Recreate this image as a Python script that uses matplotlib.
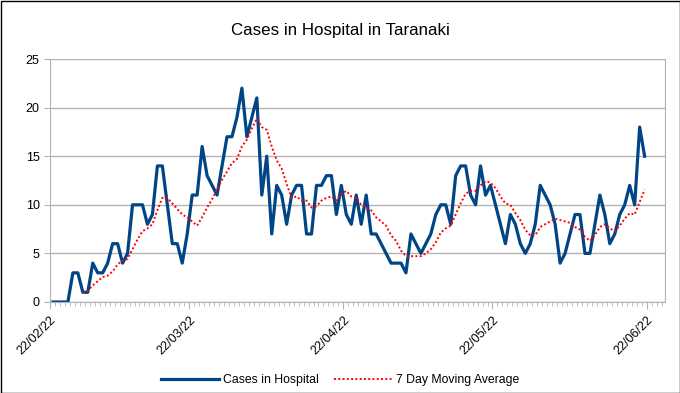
import numpy as np
import pandas as pd
import matplotlib
matplotlib.use('Agg')
import matplotlib.pyplot as plt
import matplotlib.dates as mdates
from matplotlib.patches import Rectangle

# daily cases in hospital, starting 22/02/22
cases = [0, 0, 0, 0, 3, 3, 1, 1, 4, 3,
         3, 4, 6, 6, 4, 5, 10, 10, 10, 8,
         9, 14, 14, 10, 6, 6, 4, 7, 11, 11,
         16, 13, 12, 11, 14, 17, 17, 19, 22, 17,
         19, 21, 11, 15, 7, 12, 11, 8, 11, 12,
         12, 7, 7, 12, 12, 13, 13, 9, 12, 9,
         8, 11, 8, 11, 7, 7, 6, 5, 4, 4,
         4, 3, 7, 6, 5, 6, 7, 9, 10, 10,
         8, 13, 14, 14, 11, 10, 14, 11, 12, 10,
         8, 6, 9, 8, 6, 5, 6, 8, 12, 11,
         10, 8, 4, 5, 7, 9, 9, 5, 5, 8,
         11, 9, 6, 7, 9, 10, 12, 10, 18, 15]
start_date = '2022-02-22'
tick_dates = ['2022-02-22', '2022-03-22', '2022-04-22', '2022-05-22', '2022-06-22']
y_ticks = [0, 5, 10, 15, 20, 25]

dates = pd.date_range(start_date, periods=len(cases), freq='D')
ma = pd.Series(cases).rolling(7).mean()

plt.rcParams['font.family'] = ['Liberation Sans', 'DejaVu Sans']

fig = plt.figure(figsize=(6.8, 3.93), dpi=100)
ax = fig.add_axes([50 / 680, 91 / 393, 615 / 680, 243 / 393])

# LibreOffice puts each day's point in the middle of its slot
x = mdates.date2num(dates) + 0.6
ax.plot(x, cases, color='#004586', lw=2.3, label='Cases in Hospital', solid_joinstyle='round')
ax.plot(x, ma, color='#ff0000', lw=1.4, ls=(0, (1, 1.2)), label='7 Day Moving Average')

x0 = mdates.date2num(pd.Timestamp(start_date))
ax.set_xlim(x0, x0 + 123.7)
ax.set_ylim(0, 25)
ax.set_yticks(y_ticks)
ax.set_xticks(mdates.date2num(pd.to_datetime(tick_dates)))
ax.xaxis.set_major_formatter(mdates.DateFormatter('%d/%m/%y'))
ax.xaxis.set_minor_locator(mdates.DayLocator())
ax.grid(axis='y', color='#b3b3b3', lw=1)
ax.set_axisbelow(True)

ax.spines['top'].set_visible(False)
for s in ['left', 'right', 'bottom']:
    ax.spines[s].set_color('#b3b3b3')
ax.tick_params(axis='both', which='both', color='#b3b3b3', labelsize=9, labelcolor='#000000')
ax.tick_params(axis='x', which='major', length=5)
ax.tick_params(axis='x', which='minor', length=3)
ax.tick_params(axis='y', length=4)
plt.setp(ax.get_xticklabels(), rotation=45, ha='right', rotation_mode='anchor')

fig.text(0.5, 1 - 30 / 393, 'Cases in Hospital in Taranaki', ha='center', va='center', fontsize=12.2)
fig.legend(loc='center', bbox_to_anchor=(0.5, 13 / 393), ncol=2, frameon=False,
           fontsize=8.8, handlelength=4.8, columnspacing=1.2, handletextpad=0.3)

fig.add_artist(Rectangle((0.5 / 680, 0.5 / 393), 679 / 680, 392 / 393, transform=fig.transFigure,
                         fill=False, edgecolor='black', lw=1))

fig.savefig('out.png', dpi=100)
